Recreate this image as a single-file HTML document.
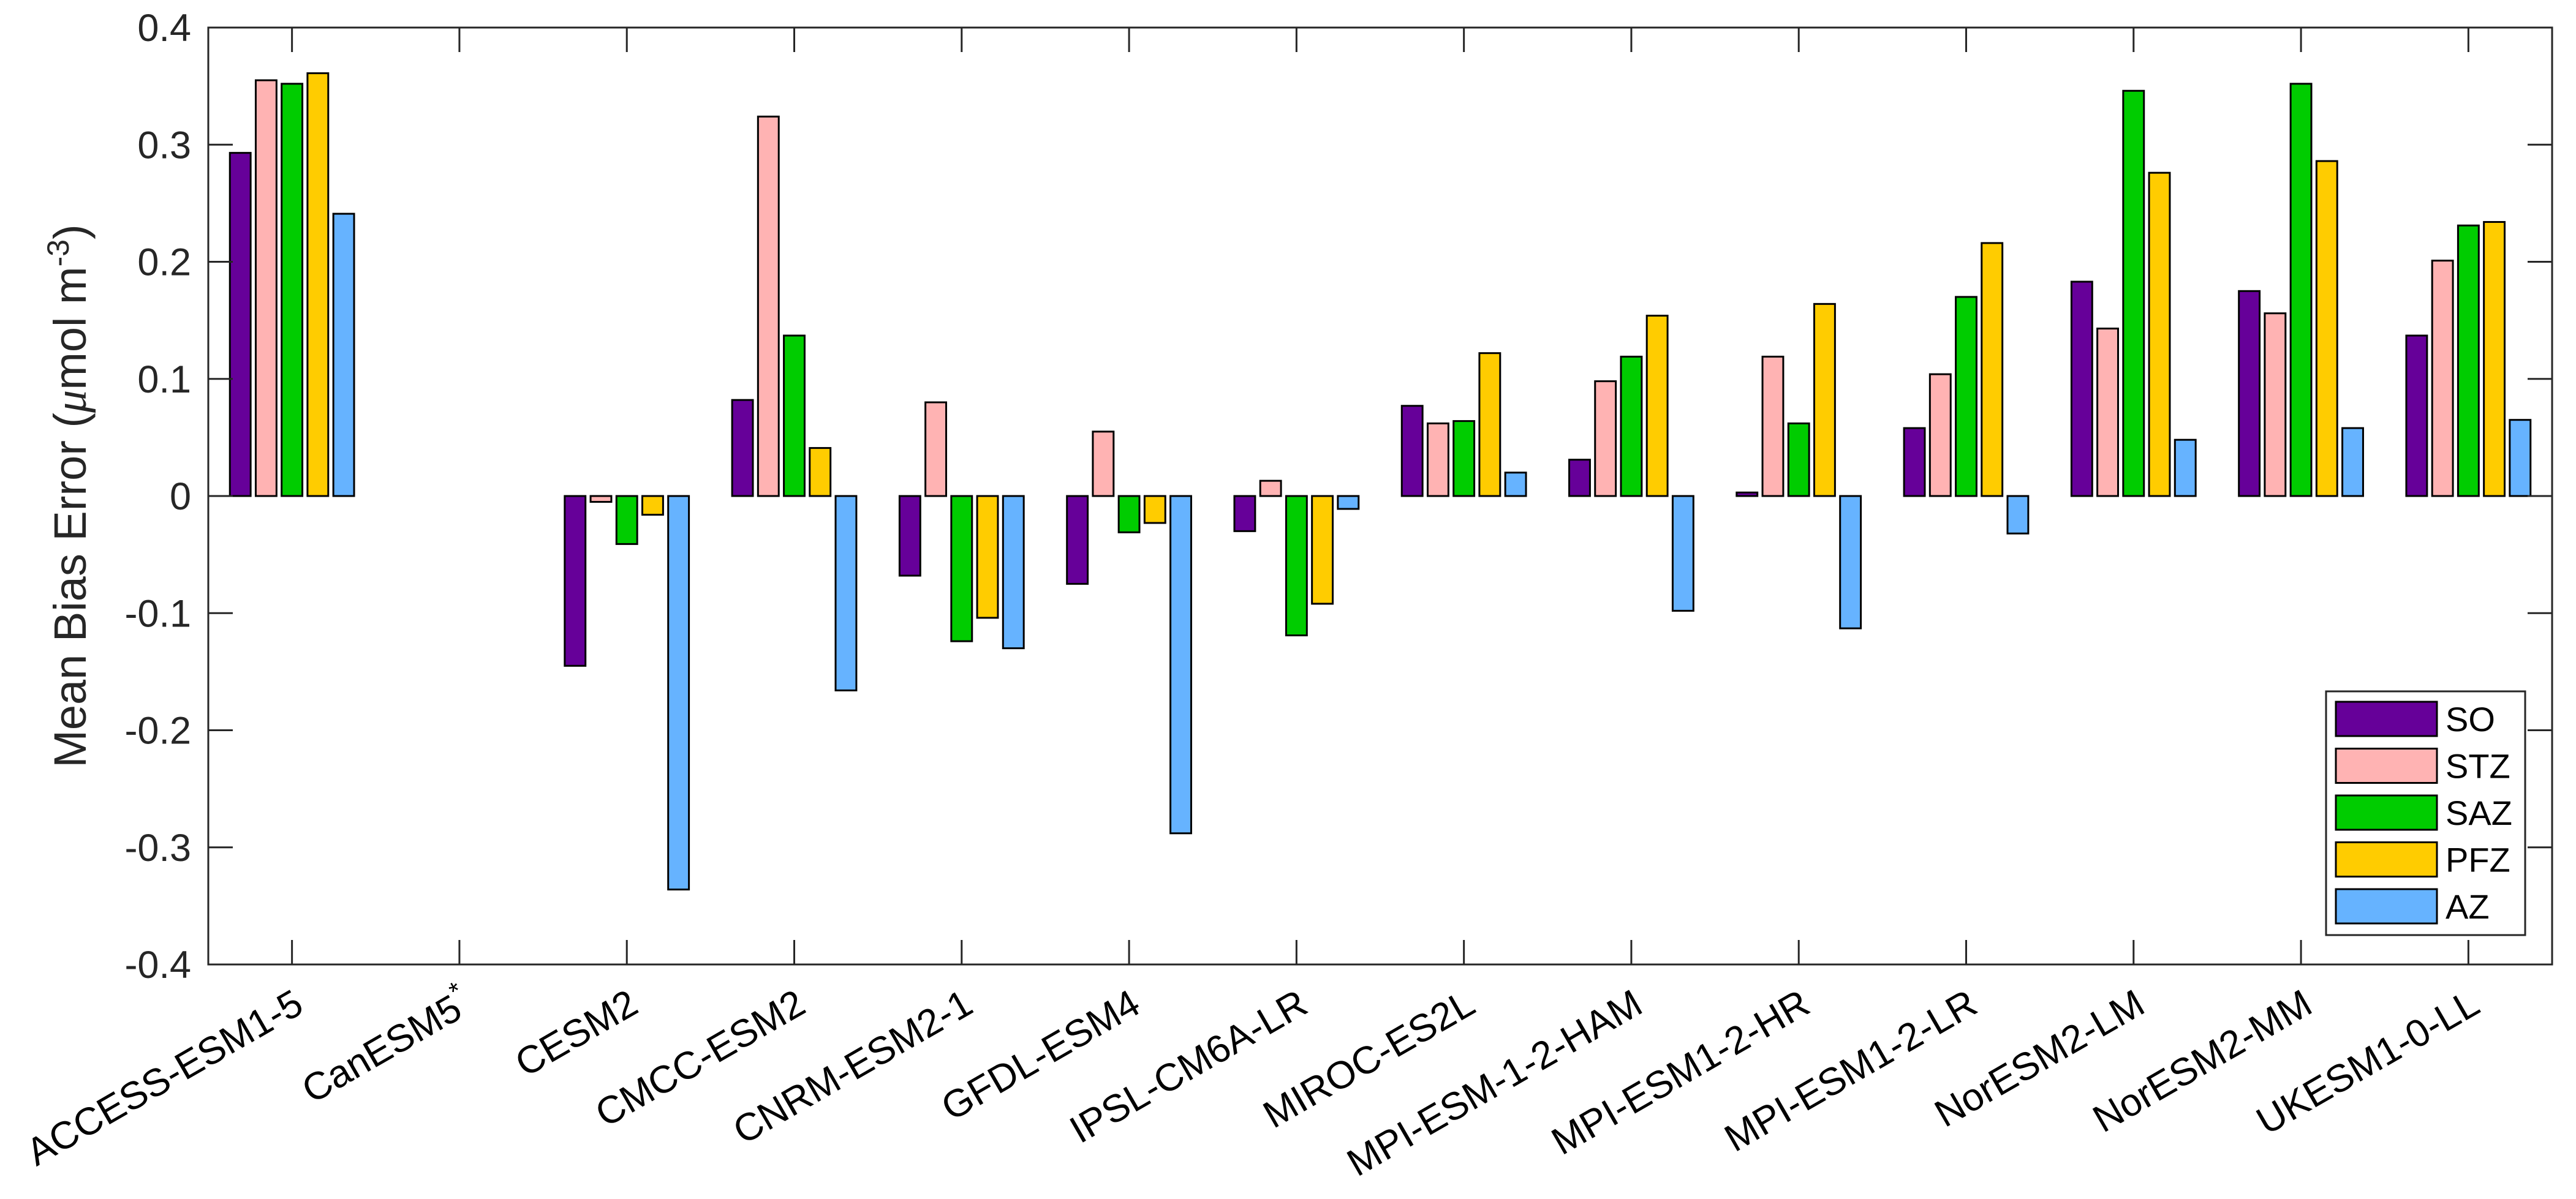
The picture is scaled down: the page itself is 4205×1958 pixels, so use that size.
<!DOCTYPE html>
<html><head><meta charset="utf-8"><style>
html,body{margin:0;padding:0;background:#fff;}
svg{display:block;font-family:"Liberation Sans",Arial,sans-serif;}
</style></head><body>
<svg id="chart" width="4205" height="1958" viewBox="0 0 4205 1958" xmlns="http://www.w3.org/2000/svg">
<rect x="0" y="0" width="4205" height="1958" fill="#fff"/>
<g id="bars"></g>
<g id="axes"></g>
<text transform="translate(140,810) rotate(-90)" text-anchor="middle" font-size="74" fill="#262626">Mean Bias Error (<tspan font-family="Liberation Serif, serif" font-style="italic">μ</tspan>mol m<tspan baseline-shift="super" font-size="50">-3</tspan>)</text>
<g id="legend"></g>
</svg>
<script>
const categories = ["ACCESS-ESM1-5","CanESM5","CESM2","CMCC-ESM2","CNRM-ESM2-1","GFDL-ESM4","IPSL-CM6A-LR","MIROC-ES2L","MPI-ESM-1-2-HAM","MPI-ESM1-2-HR","MPI-ESM1-2-LR","NorESM2-LM","NorESM2-MM","UKESM1-0-LL"];
const seriesNames = ["SO","STZ","SAZ","PFZ","AZ"];
const seriesColors = ["#660099","#ffb3b3","#00cc00","#ffcc00","#66b3ff"];
const valuesSO  = [0.293, null, -0.145, 0.082, -0.068, -0.075, -0.030, 0.077, 0.031, 0.003, 0.058, 0.183, 0.175, 0.137];
const valuesSTZ = [0.355, null, -0.005, 0.324, 0.080, 0.055, 0.013, 0.062, 0.098, 0.119, 0.104, 0.143, 0.156, 0.201];
const valuesSAZ = [0.352, null, -0.041, 0.137, -0.124, -0.031, -0.119, 0.064, 0.119, 0.062, 0.170, 0.346, 0.352, 0.231];
const valuesPFZ = [0.361, null, -0.016, 0.041, -0.104, -0.023, -0.092, 0.122, 0.154, 0.164, 0.216, 0.276, 0.286, 0.234];
const valuesAZ  = [0.241, null, -0.336, -0.166, -0.130, -0.288, -0.011, 0.020, -0.098, -0.113, -0.032, 0.048, 0.058, 0.065];
const yTicks = [-0.4,-0.3,-0.2,-0.1,0,0.1,0.2,0.3,0.4];
const yTickLabels = ["-0.4","-0.3","-0.2","-0.1","0","0.1","0.2","0.3","0.4"];

const NS="http://www.w3.org/2000/svg";
const L=340,R=4166,T=45,B=1575;
const yMin=-0.4,yMax=0.4;
function yScale(v){return B-(v-yMin)/(yMax-yMin)*(B-T);}
const step=(R-L)/categories.length;
function xScale(i){return L+step*(i+0.5);}
function mk(tag,attrs,parent){const e=document.createElementNS(NS,tag);for(const k in attrs)e.setAttribute(k,attrs[k]);parent.appendChild(e);return e;}

const allSeries=[valuesSO,valuesSTZ,valuesSAZ,valuesPFZ,valuesAZ];
const bars=document.getElementById('bars');
const barW=step*0.124, pitch=step*0.1545;
allSeries.forEach((vals,s)=>{
  vals.forEach((v,i)=>{
    if(v===null)return;
    const cx=xScale(i)+(s-2)*pitch;
    const y0=yScale(0),y1=yScale(v);
    const r=mk('rect',{x:cx-barW/2,y:Math.min(y0,y1),width:barW,height:Math.max(Math.abs(y1-y0),0.5),fill:seriesColors[s],stroke:'#000','stroke-width':3},bars);
    
    
  });
});

const ax=document.getElementById('axes');
const box=mk('rect',{x:L,y:T,width:R-L,height:B-T,fill:'none',stroke:'#262626','stroke-width':3},ax);


const tl=40;
yTicks.forEach((v,k)=>{
  const y=yScale(v);
  mk('line',{x1:L,x2:L+tl,y1:y,y2:y,stroke:'#262626','stroke-width':3},ax);
  mk('line',{x1:R,x2:R-tl,y1:y,y2:y,stroke:'#262626','stroke-width':3},ax);
  const t=mk('text',{x:312,y:y+22,'text-anchor':'end','font-size':63,fill:'#262626'},ax);
  t.textContent=yTickLabels[k];
  
  
});
categories.forEach((c,i)=>{
  const x=xScale(i);
  mk('line',{x1:x,x2:x,y1:B,y2:B-tl,stroke:'#262626','stroke-width':3},ax);
  mk('line',{x1:x,x2:x,y1:T,y2:T+tl,stroke:'#262626','stroke-width':3},ax);
  const t=mk('text',{transform:`translate(${x+14},${B+62}) rotate(-30)`,'text-anchor':'end','dominant-baseline':'middle','font-size':63,fill:'#000'},ax);
  t.textContent=c;
  if(c==="CanESM5"){const sp=mk('tspan',{'baseline-shift':'super','font-size':42},t);sp.textContent='*';}
  
  
});

const lg=document.getElementById('legend');
const lb=mk('rect',{x:3797,y:1129,width:325,height:398,fill:'#fff',stroke:'#262626','stroke-width':3},lg);


seriesNames.forEach((n,s)=>{
  const y=1146+s*76.5;
  const g=mk('g',{},lg);
  
  
  mk('rect',{x:3813,y:y,width:165,height:56,fill:seriesColors[s],stroke:'#000','stroke-width':3},g);
  const t=mk('text',{x:3992,y:y+48,'font-size':56,fill:'#000'},g);
  t.textContent=n;
});
</script>
</body></html>
